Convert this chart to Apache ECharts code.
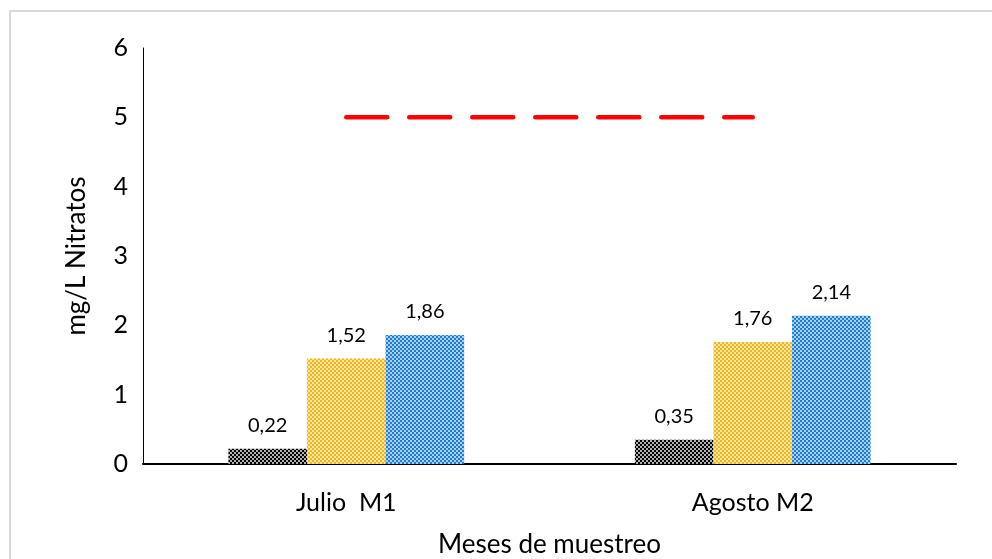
<!DOCTYPE html>
<html>
<head>
<meta charset="utf-8">
<script src="https://cdn.jsdelivr.net/npm/echarts@6/dist/echarts.min.js"></script>
<style>
  html, body { margin: 0; padding: 0; background: #fff; }
  #chart { width: 992px; height: 559px; }
</style>
</head>
<body>
<div id="chart"></div>
<script>
// Nitrate samples per month
const categories = ['Julio  M1', 'Agosto M2'];
const seriesBlack = [0.22, 0.35];
const seriesYellow = [1.52, 1.76];
const seriesBlue = [1.86, 2.14];
const limitLine = [5, 5];
const yTicks = [0, 1, 2, 3, 4, 5, 6];

const FONT = 'Lato, "Open Sans", sans-serif';

// small checkerboard fill used for the bars
function checker(dark, light) {
  const c = document.createElement('canvas');
  c.width = 4; c.height = 4;
  const g = c.getContext('2d');
  g.fillStyle = light; g.fillRect(0, 0, 4, 4);
  g.fillStyle = dark;
  g.fillRect(0, 0, 2, 2);
  g.fillRect(2, 2, 2, 2);
  return { image: c, repeat: 'repeat' };
}

const fmt = p => String(p.value).replace('.', ',');

function barSeries(data, dark, light) {
  return {
    type: 'bar',
    data: data,
    barGap: '0%',
    barCategoryGap: '42%',
    itemStyle: { color: checker(dark, light) },
    label: {
      show: true, position: 'top', distance: 13,
      formatter: fmt, color: '#000', fontSize: 20, fontFamily: FONT
    }
  };
}

const chart = echarts.init(document.getElementById('chart'));
chart.setOption({
  animation: false,
  backgroundColor: '#fff',
  graphic: [{
    type: 'rect', silent: true,
    shape: { x: 10, y: 11, width: 1000, height: 600 },
    style: { fill: 'none', stroke: '#d9d9d9', lineWidth: 2 }
  }],
  grid: { left: 143, right: 36, top: 48, bottom: 95, containLabel: false, outerBoundsMode: 'none' },
  xAxis: {
    type: 'category',
    data: categories,
    axisTick: { show: false },
    axisLine: { lineStyle: { color: '#000', width: 2 } },
    axisLabel: { color: '#000', fontSize: 25, fontFamily: FONT, margin: 26 },
    name: 'Meses de muestreo',
    nameLocation: 'middle',
    nameGap: 68,
    nameTextStyle: { color: '#000', fontSize: 26, fontFamily: FONT }
  },
  yAxis: {
    type: 'value',
    min: yTicks[0], max: yTicks[yTicks.length - 1], interval: 1,
    splitLine: { show: false },
    axisTick: { show: false },
    axisLine: { show: true, lineStyle: { color: '#000', width: 1 } },
    axisLabel: { color: '#000', fontSize: 25, fontFamily: FONT, margin: 15 },
    name: 'mg/L Nitratos',
    nameLocation: 'middle',
    nameGap: 53,
    nameTextStyle: { color: '#000', fontSize: 26, fontFamily: FONT }
  },
  series: [
    barSeries(seriesBlack, '#000000', '#b0b0b0'),
    barSeries(seriesYellow, '#f2b51a', '#fbe6a8'),
    barSeries(seriesBlue, '#1f7fd6', '#a8cff0'),
    {
      type: 'line',
      data: limitLine,
      symbol: 'none',
      lineStyle: { color: '#ff0000', width: 4.5, type: [41, 22], cap: 'round' },
      z: 5
    }
  ]
});
</script>
</body>
</html>
